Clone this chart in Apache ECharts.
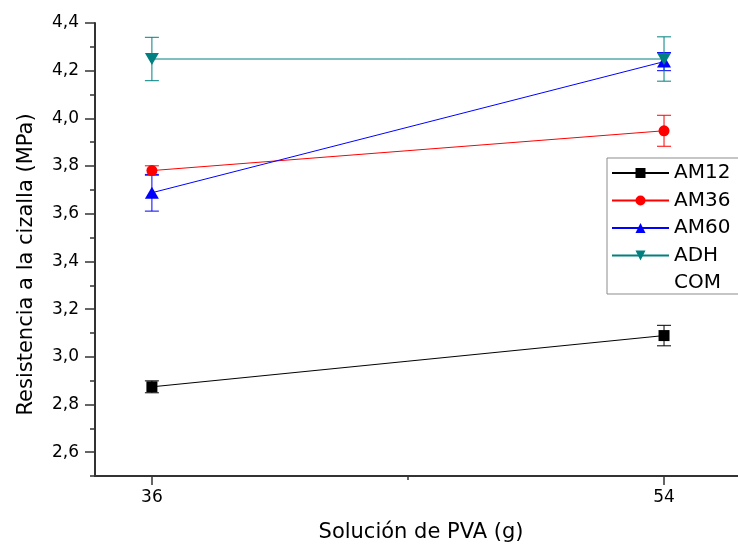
<!DOCTYPE html>
<html>
<head>
<meta charset="utf-8">
<script src="https://cdn.jsdelivr.net/npm/echarts@6/dist/echarts.min.js"></script>
<style>
  html, body { margin: 0; padding: 0; background: #fff; }
  #chart { width: 738px; height: 548px; }
</style>
</head>
<body>
<div id="chart"></div>
<script>
// datos
const xValues = [36, 54];
const am12 = [2.874, 3.089];
const am12Err = [0.025, 0.043];
const am36 = [3.781, 3.948];
const am36Err = [0.02, 0.065];
const am60 = [3.688, 4.238];
const am60Err = [0.077, 0.038];
const adh = [4.249, 4.249];
const adhErr = [0.091, 0.093];

const yMajor = [2.6, 2.8, 3.0, 3.2, 3.4, 3.6, 3.8, 4.0, 4.2, 4.4];
const yMinor = [2.5, 2.7, 2.9, 3.1, 3.3, 3.5, 3.7, 3.9, 4.1, 4.3];
const xMajor = [36, 54];
const xMinor = [45];

const font = 'DejaVu Sans';
const invTri = 'path://M0,0 L14,0 L7,12 Z';

function pairs(ys) {
  return xValues.map((x, i) => [x, ys[i]]);
}

function errSeries(ys, errs, color) {
  return {
    type: 'custom',
    z: 3,
    silent: true,
    data: xValues.map((x, i) => [x, ys[i], errs[i]]),
    renderItem: function (params, api) {
      const x = api.value(0), y = api.value(1), e = api.value(2);
      const top = api.coord([x, y + e]);
      const bot = api.coord([x, y - e]);
      const w = 7;
      const st = { stroke: color, lineWidth: 1 };
      return {
        type: 'group',
        children: [
          { type: 'line', shape: { x1: top[0], y1: top[1], x2: bot[0], y2: bot[1] }, style: st },
          { type: 'line', shape: { x1: top[0] - w, y1: top[1], x2: top[0] + w, y2: top[1] }, style: st },
          { type: 'line', shape: { x1: bot[0] - w, y1: bot[1], x2: bot[0] + w, y2: bot[1] }, style: st }
        ]
      };
    }
  };
}

function lineSeries(name, ys, color, symbol, size) {
  return {
    name: name,
    type: 'line',
    z: 4,
    data: pairs(ys),
    symbol: symbol,
    symbolSize: size,
    itemStyle: { color: color },
    lineStyle: { color: color, width: 1 },
    emphasis: { disabled: true }
  };
}

const chart = echarts.init(document.getElementById('chart'));
chart.setOption({
  animation: false,
  grid: { left: 95, top: 23, width: 643, height: 455.5 },
  legend: {
    orient: 'vertical',
    left: 607,
    top: 158,
    padding: [5, 40, 1, 4],
    itemWidth: 57,
    itemHeight: 12.5,
    itemGap: 7.5,
    borderColor: '#8c8c8c',
    borderWidth: 1,
    selectedMode: false,
    textStyle: { fontFamily: font, fontSize: 20, color: '#000', lineHeight: 20 },
    data: ['AM12', 'AM36', 'AM60', 'ADH', 'COM']
  },
  xAxis: [{
    type: 'value',
    min: 34,
    max: 56.6,
    name: 'Solución de PVA (g)',
    nameLocation: 'middle',
    nameGap: 46,
    nameTextStyle: { fontFamily: font, fontSize: 21, color: '#000', padding: [0, 0, 0, 9] },
    axisLine: { lineStyle: { color: '#333', width: 2 } },
    axisTick: { inside: false, length: 9, customValues: xMajor, lineStyle: { color: '#333', width: 1.5 } },
    axisLabel: { customValues: xMajor, margin: 13, fontFamily: font, fontSize: 17, color: '#000' },
    splitLine: { show: false }
  }, {
    type: 'value',
    position: 'bottom',
    min: 34,
    max: 56.6,
    axisLine: { show: false },
    axisTick: { inside: false, length: 4, customValues: xMinor, lineStyle: { color: '#333', width: 1.5 } },
    axisLabel: { show: false },
    splitLine: { show: false }
  }],
  yAxis: [{
    type: 'value',
    position: 'left',
    min: 2.5,
    max: 4.4,
    name: 'Resistencia a la cizalla (MPa)',
    nameLocation: 'middle',
    nameGap: 58,
    nameTextStyle: { fontFamily: font, fontSize: 21, color: '#000', padding: [0, 30, 0, 0] },
    axisLine: { show: true, lineStyle: { color: '#333', width: 2 } },
    axisTick: { show: true, inside: false, length: 10, customValues: yMajor, lineStyle: { color: '#333', width: 1.5 } },
    axisLabel: {
      customValues: yMajor,
      margin: 16,
      fontFamily: font,
      fontSize: 17,
      color: '#000',
      formatter: v => v.toFixed(1).replace('.', ',')
    },
    splitLine: { show: false }
  }, {
    type: 'value',
    position: 'left',
    min: 2.5,
    max: 4.4,
    axisLine: { show: false },
    axisTick: { show: true, inside: false, length: 5, customValues: yMinor, lineStyle: { color: '#333', width: 1.5 } },
    axisLabel: { show: false },
    splitLine: { show: false }
  }],
  series: [
    errSeries(am12, am12Err, '#000'),
    errSeries(am36, am36Err, '#ff0000'),
    errSeries(am60, am60Err, '#0000ff'),
    errSeries(adh, adhErr, '#008080'),
    lineSeries('AM12', am12, '#000', 'rect', 11),
    lineSeries('AM36', am36, '#ff0000', 'circle', 11),
    lineSeries('AM60', am60, '#0000ff', 'triangle', [14, 12]),
    lineSeries('ADH', adh, '#008080', invTri, [14, 12]),
    {
      name: 'COM',
      type: 'line',
      data: [],
      symbol: 'none',
      itemStyle: { color: 'rgba(0,0,0,0)' },
      lineStyle: { color: 'rgba(0,0,0,0)' }
    }
  ]
});
</script>
</body>
</html>
